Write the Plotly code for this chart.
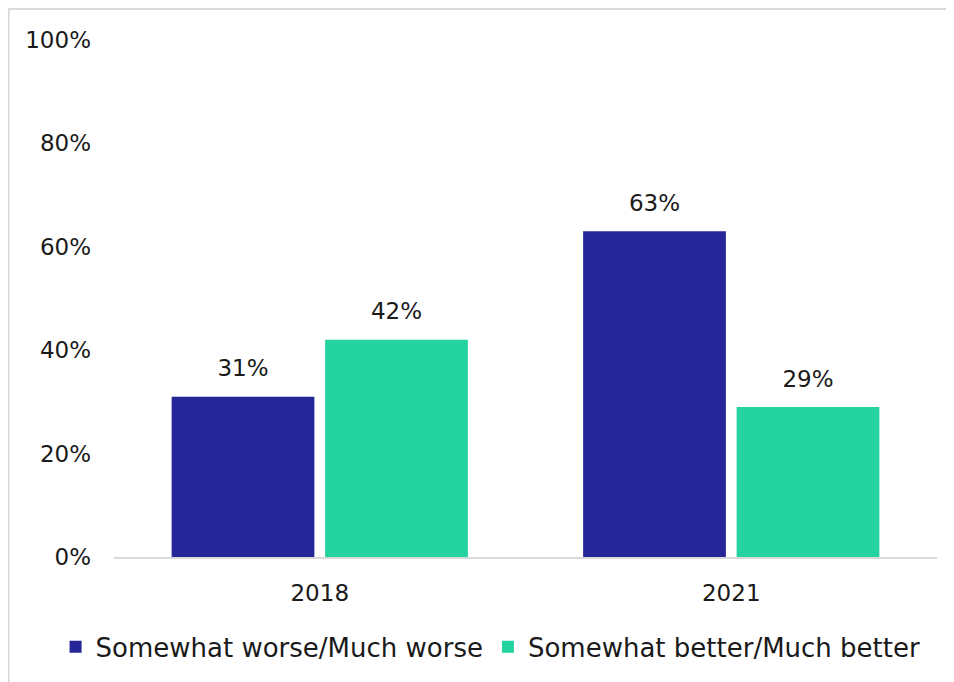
import plotly.graph_objects as go

categories = ["2018", "2021"]
series_names = ["Somewhat worse/Much worse", "Somewhat better/Much better"]
worse_values = [31, 63]
better_values = [42, 29]
y_tick_values = [0, 20, 40, 60, 80, 100]
y_tick_labels = ["0%", "20%", "40%", "60%", "80%", "100%"]

colors = ["#262699", "#25D3A1"]
FONT = "DejaVu Sans"
TXT = "#1a1a1a"

fig = go.Figure()
for name, vals, col in zip(series_names, [worse_values, better_values], colors):
    fig.add_trace(go.Bar(
        x=categories, y=vals, name=name,
        marker=dict(color=col, line=dict(width=0)),
    ))
# value labels placed above bars via grouped scatter traces
for name, vals in zip(series_names, [worse_values, better_values]):
    fig.add_trace(go.Scatter(
        x=categories, y=vals, mode="markers+text", showlegend=False,
        marker=dict(size=22, opacity=0), hoverinfo="skip",
        text=[f"{v}%" for v in vals], textposition="top center",
        textfont=dict(family=FONT, size=23, color=TXT),
        cliponaxis=False,
    ))

fig.update_layout(
    width=946, height=674,
    margin=dict(l=106, r=17, t=32, b=125),
    paper_bgcolor="white", plot_bgcolor="white",
    barmode="group", bargap=0.254, bargroupgap=0.07,
    scattermode="group", scattergap=0.254,
    font=dict(family=FONT, size=23, color=TXT),
    showlegend=True,
    legend=dict(orientation="h", x=-0.071, xanchor="left",
                y=-0.174, yanchor="middle",
                font=dict(family=FONT, size=26, color=TXT),
                itemwidth=30, itemsizing="constant", traceorder="normal",
                bgcolor="rgba(0,0,0,0)"),
    xaxis=dict(showline=True, linecolor="#d9d9d9", linewidth=2, showgrid=False,
               ticks="", ticklabelstandoff=14, tickfont=dict(family=FONT, size=23, color=TXT)),
    yaxis=dict(range=[0, 100], tickvals=y_tick_values, ticktext=y_tick_labels,
               showgrid=False, showline=False, zeroline=False, ticks="",
               ticklabelstandoff=22, tickfont=dict(family=FONT, size=23, color=TXT)),
    shapes=[dict(type="rect", xref="paper", yref="paper",
                 x0=-0.128, x1=1.05, y0=-0.30, y1=1.060,
                 line=dict(color="#d9d9d9", width=2), fillcolor="rgba(0,0,0,0)", layer="below")],
)

fig.write_html("out.html")
